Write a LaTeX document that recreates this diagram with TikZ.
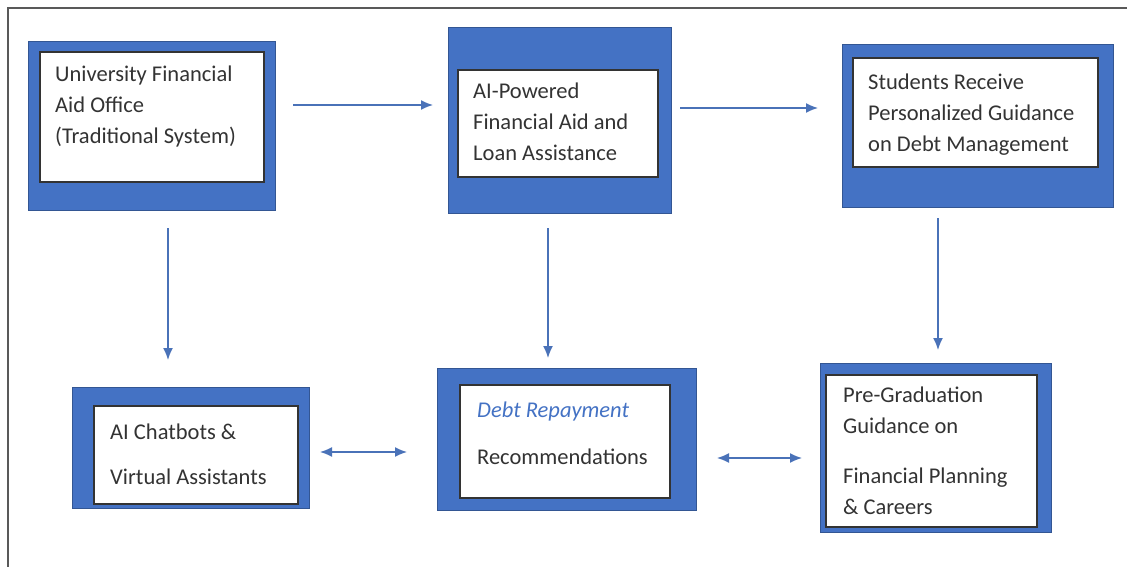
\documentclass[tikz,border=0pt]{standalone}
\usepackage{fontspec}
\setmainfont{Carlito}
\usepackage{tikz}
\usetikzlibrary{arrows.meta, positioning}

\definecolor{boxblue}{HTML}{4472C4}
\definecolor{arrowblue}{HTML}{4A72B8}
\definecolor{txtgray}{HTML}{333333}

\tikzset{
    outerbox/.style={rectangle, fill=boxblue, draw=boxblue!75!black, line width=0.8pt, inner sep=0pt},
    innerbox/.style={rectangle, fill=white, draw=black!80, line width=1.6pt, inner sep=0pt},
    boxtext/.style={anchor=west, align=left, inner sep=0pt, text=txtgray, font=\fontsize{22.5}{31}\selectfont},
    flow/.style={draw=arrowblue, line width=1.5pt, -{Latex[length=12pt,width=10pt]}},
    twoway/.style={draw=arrowblue, line width=1.5pt, {Latex[length=12pt,width=10pt]}-{Latex[length=12pt,width=10pt]}}
}

\begin{document}
\begin{tikzpicture}[x=1pt, y=-1pt]
        \useasboundingbox (0,0) rectangle (1127,567);
        % Page frame
        \draw[black!65, line width=1.5pt] (8,567) -- (8,8) -- (1127,8);

        % Top row
        \node[outerbox, minimum width=247pt, minimum height=169pt] (office) at (151.5,125.5) {};
        \node[innerbox, minimum width=224pt, minimum height=130pt] (officein) at (152,117) {};
        \node[boxtext] (officetxt) at (55,107) {University Financial\\Aid Office\\(Traditional System)};

        \node[outerbox, minimum width=223pt, minimum height=186pt] (aipower) at (559.5,120) {};
        \node[innerbox, minimum width=200pt, minimum height=107pt] (aipowerin) at (558,123.5) {};
        \node[boxtext] (aipowertxt) at (473,122) {AI-Powered\\Financial Aid and\\Loan Assistance};

        \node[outerbox, minimum width=271pt, minimum height=163pt] (guide) at (977.5,125.5) {};
        \node[innerbox, minimum width=245pt, minimum height=109pt] (guidein) at (975.5,112.5) {};
        \node[boxtext] (guidetxt) at (868,115) {Students Receive\\Personalized Guidance\\on Debt Management};

        % Bottom row
        \node[outerbox, minimum width=237pt, minimum height=121pt] (chat) at (190.5,447.5) {};
        \node[innerbox, minimum width=204pt, minimum height=98pt] (chatin) at (196,455) {};
        \node[boxtext] (chattxt) at (110,454.5) {AI Chatbots \&\\[14pt]Virtual Assistants};

        \node[outerbox, minimum width=259pt, minimum height=142pt] (repay) at (566.5,439) {};
        \node[innerbox, minimum width=210pt, minimum height=113pt] (repayin) at (565,441.5) {};
        \node[boxtext] (repaytxt) at (477,433.5) {\textcolor{boxblue}{\itshape Debt Repayment}\\[16pt]Recommendations};

        \node[outerbox, minimum width=231pt, minimum height=169pt] (career) at (935.5,447.5) {};
        \node[innerbox, minimum width=211pt, minimum height=152pt] (careerin) at (931.5,451) {};
        \node[boxtext] (careertxt) at (843,451) {Pre-Graduation\\Guidance on\\[19pt]Financial Planning\\\& Careers};

        % Arrow ends
        \coordinate (p1) at (293,105);
        \coordinate (p2) at (433,105);
        \coordinate (p3) at (680,108);
        \coordinate (p4) at (818,108);
        \coordinate (p5) at (168,228);
        \coordinate (p6) at (168,360);
        \coordinate (p7) at (548,228);
        \coordinate (p8) at (548,358);
        \coordinate (p9) at (938,218);
        \coordinate (p10) at (938,350);
        \coordinate (p11) at (320,452);
        \coordinate (p12) at (407,452);
        \coordinate (p13) at (717,458);
        \coordinate (p14) at (802,458);

        % Connectors
        \draw[flow] (p1) -- (p2);
        \draw[flow] (p3) -- (p4);
        \draw[flow] (p5) -- (p6);
        \draw[flow] (p7) -- (p8);
        \draw[flow] (p9) -- (p10);
        \draw[twoway] (p11) -- (p12);
        \draw[twoway] (p13) -- (p14);
\end{tikzpicture}
\end{document}
